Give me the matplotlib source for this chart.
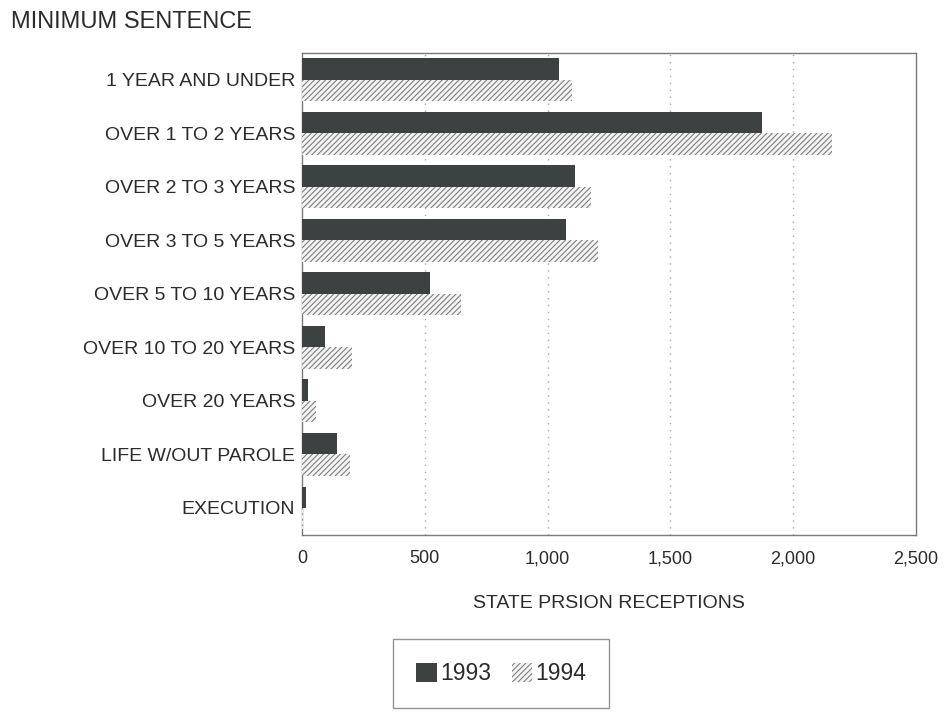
import matplotlib
matplotlib.use("Agg")
import matplotlib.pyplot as plt
from matplotlib.patches import Patch

plt.rcParams["font.family"] = ["Liberation Sans", "DejaVu Sans"]
plt.rcParams["hatch.linewidth"] = 0.8

# data
categories = ["1 YEAR AND UNDER", "OVER 1 TO 2 YEARS", "OVER 2 TO 3 YEARS",
              "OVER 3 TO 5 YEARS", "OVER 5 TO 10 YEARS", "OVER 10 TO 20 YEARS",
              "OVER 20 YEARS", "LIFE W/OUT PAROLE", "EXECUTION"]
recv_1993 = [1045, 1875, 1110, 1075, 520, 93, 25, 142, 15]
recv_1994 = [1100, 2160, 1178, 1207, 648, 203, 55, 195, 2]
xticks = [0, 500, 1000, 1500, 2000, 2500]
xticklabels = ["0", "500", "1,000", "1,500", "2,000", "2,500"]

DARK = "#3d4141"
HATCH = "#7e7e7e"
FRAME = "#7a7a7a"
TXT = "#2b2b2b"

fig = plt.figure(figsize=(9.44, 7.13), dpi=100)
ax = fig.add_axes([0.320, 0.250, 0.650, 0.676])

pos = list(range(len(categories)))
h = 0.4
ax.barh([p - h / 2 for p in pos], recv_1993, height=h, color=DARK, lw=0, zorder=3)
ax.barh([p + h / 2 for p in pos], recv_1994, height=h, facecolor="#f4f4f4",
        edgecolor=HATCH, hatch="//////", lw=0, zorder=3)

ax.set_ylim(len(categories) - 0.5, -0.5)
ax.set_xlim(0, 2500)
ax.set_yticks(pos)
ax.set_yticklabels(categories, fontsize=14, color=TXT)
ax.set_xticks(xticks)
ax.set_xticklabels(xticklabels, fontsize=13, color=TXT)
ax.tick_params(axis="both", length=0)
ax.tick_params(axis="x", pad=11)
ax.tick_params(axis="y", pad=5)

for v in xticks[1:-1]:
    ax.axvline(v, color="#a8a8a8", lw=1.0, ls=(0, (1, 4)), zorder=1)

for s in ax.spines.values():
    s.set_color(FRAME)
    s.set_linewidth(1.0)

ax.set_xlabel("STATE PRSION RECEPTIONS", fontsize=14, color=TXT, labelpad=20)

fig.text(0.012, 0.969, "MINIMUM SENTENCE", fontsize=17, color=TXT,
         ha="left", va="center")

handles = [Patch(facecolor=DARK, lw=0),
           Patch(facecolor="#f4f4f4", edgecolor=HATCH, hatch="//////", lw=0)]
leg = fig.legend(handles, ["1993", "1994"], loc="center",
                 bbox_to_anchor=(0.531, 0.055), ncol=2, fontsize=16.5,
                 frameon=True, fancybox=False, edgecolor=FRAME,
                 handlelength=0.9, handleheight=0.9, handletextpad=0.15,
                 columnspacing=0.9, borderpad=1.0)
leg.get_frame().set_linewidth(1.0)
for t in leg.get_texts():
    t.set_color(TXT)

fig.savefig("out.png", dpi=100)
